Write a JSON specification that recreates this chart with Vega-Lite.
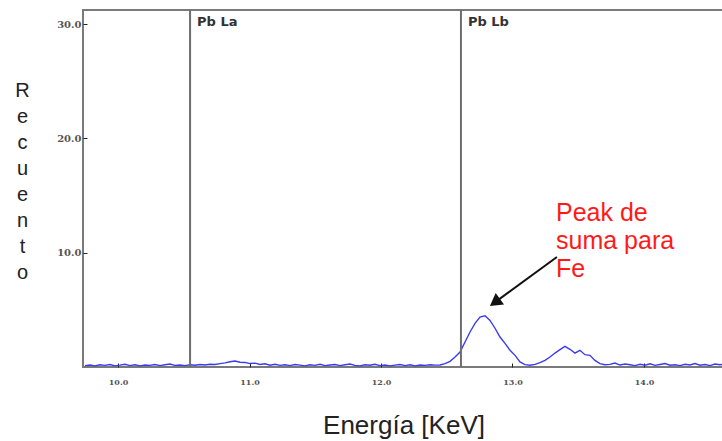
{
  "$schema": "https://vega.github.io/schema/vega-lite/v6.json",
  "width": 641,
  "height": 357,
  "autosize": "none",
  "padding": {"left": 83, "top": 10, "right": 0, "bottom": 74},
  "background": "white",
  "config": {
    "font": "Liberation Sans",
    "view": {"stroke": "#7a7a7a", "strokeWidth": 2}
  },
  "datasets": {
    "spectrum": [
      {"E": 9.749, "c": 0.12}, {"E": 9.787, "c": 0.18}, {"E": 9.825, "c": 0.1}, {"E": 9.863, "c": 0.2},
      {"E": 9.901, "c": 0.14}, {"E": 9.939, "c": 0.22}, {"E": 9.977, "c": 0.1}, {"E": 10.015, "c": 0.16},
      {"E": 10.053, "c": 0.24}, {"E": 10.091, "c": 0.12}, {"E": 10.129, "c": 0.2}, {"E": 10.167, "c": 0.1},
      {"E": 10.205, "c": 0.18}, {"E": 10.243, "c": 0.14}, {"E": 10.281, "c": 0.22}, {"E": 10.319, "c": 0.12},
      {"E": 10.357, "c": 0.2}, {"E": 10.395, "c": 0.26}, {"E": 10.433, "c": 0.14}, {"E": 10.471, "c": 0.18},
      {"E": 10.51, "c": 0.12}, {"E": 10.548, "c": 0.2}, {"E": 10.586, "c": 0.16}, {"E": 10.624, "c": 0.22},
      {"E": 10.662, "c": 0.18}, {"E": 10.7, "c": 0.24}, {"E": 10.738, "c": 0.22}, {"E": 10.776, "c": 0.3},
      {"E": 10.814, "c": 0.36}, {"E": 10.852, "c": 0.46}, {"E": 10.89, "c": 0.52}, {"E": 10.928, "c": 0.42},
      {"E": 10.966, "c": 0.4}, {"E": 11.004, "c": 0.3}, {"E": 11.042, "c": 0.34}, {"E": 11.08, "c": 0.22},
      {"E": 11.118, "c": 0.28}, {"E": 11.156, "c": 0.16}, {"E": 11.194, "c": 0.24}, {"E": 11.232, "c": 0.14},
      {"E": 11.27, "c": 0.2}, {"E": 11.308, "c": 0.12}, {"E": 11.346, "c": 0.22}, {"E": 11.384, "c": 0.16},
      {"E": 11.422, "c": 0.1}, {"E": 11.46, "c": 0.2}, {"E": 11.498, "c": 0.14}, {"E": 11.536, "c": 0.24},
      {"E": 11.574, "c": 0.12}, {"E": 11.612, "c": 0.18}, {"E": 11.65, "c": 0.22}, {"E": 11.688, "c": 0.12},
      {"E": 11.726, "c": 0.2}, {"E": 11.764, "c": 0.26}, {"E": 11.802, "c": 0.14}, {"E": 11.84, "c": 0.1},
      {"E": 11.878, "c": 0.2}, {"E": 11.916, "c": 0.16}, {"E": 11.954, "c": 0.24}, {"E": 11.992, "c": 0.12},
      {"E": 12.03, "c": 0.18}, {"E": 12.068, "c": 0.1}, {"E": 12.106, "c": 0.16}, {"E": 12.144, "c": 0.22},
      {"E": 12.183, "c": 0.12}, {"E": 12.221, "c": 0.2}, {"E": 12.259, "c": 0.1}, {"E": 12.297, "c": 0.18},
      {"E": 12.335, "c": 0.14}, {"E": 12.373, "c": 0.2}, {"E": 12.411, "c": 0.16}, {"E": 12.449, "c": 0.18},
      {"E": 12.487, "c": 0.3}, {"E": 12.525, "c": 0.5}, {"E": 12.563, "c": 0.87}, {"E": 12.601, "c": 1.31},
      {"E": 12.639, "c": 2.19}, {"E": 12.677, "c": 3.06}, {"E": 12.715, "c": 3.82}, {"E": 12.753, "c": 4.37},
      {"E": 12.791, "c": 4.48}, {"E": 12.829, "c": 4.08}, {"E": 12.867, "c": 3.39}, {"E": 12.905, "c": 2.62},
      {"E": 12.943, "c": 2.07}, {"E": 12.981, "c": 1.46}, {"E": 13.019, "c": 1.02}, {"E": 13.057, "c": 0.44},
      {"E": 13.095, "c": 0.21}, {"E": 13.133, "c": 0.15}, {"E": 13.171, "c": 0.23}, {"E": 13.209, "c": 0.38},
      {"E": 13.247, "c": 0.58}, {"E": 13.285, "c": 0.87}, {"E": 13.323, "c": 1.22}, {"E": 13.361, "c": 1.52},
      {"E": 13.399, "c": 1.8}, {"E": 13.437, "c": 1.55}, {"E": 13.475, "c": 1.22}, {"E": 13.513, "c": 1.46},
      {"E": 13.551, "c": 1.08}, {"E": 13.589, "c": 1.02}, {"E": 13.627, "c": 0.58}, {"E": 13.665, "c": 0.29},
      {"E": 13.703, "c": 0.2}, {"E": 13.741, "c": 0.23}, {"E": 13.779, "c": 0.35}, {"E": 13.817, "c": 0.17},
      {"E": 13.856, "c": 0.26}, {"E": 13.894, "c": 0.2}, {"E": 13.932, "c": 0.12}, {"E": 13.97, "c": 0.24},
      {"E": 14.008, "c": 0.16}, {"E": 14.046, "c": 0.28}, {"E": 14.084, "c": 0.14}, {"E": 14.122, "c": 0.22},
      {"E": 14.16, "c": 0.3}, {"E": 14.198, "c": 0.16}, {"E": 14.236, "c": 0.2}, {"E": 14.274, "c": 0.12},
      {"E": 14.312, "c": 0.24}, {"E": 14.35, "c": 0.18}, {"E": 14.388, "c": 0.3}, {"E": 14.426, "c": 0.16},
      {"E": 14.464, "c": 0.22}, {"E": 14.502, "c": 0.12}, {"E": 14.54, "c": 0.26}, {"E": 14.578, "c": 0.2},
      {"E": 14.608, "c": 0.24}
    ],
    "lines": [
      {"E": 10.548, "c": 30.2, "name": "Pb La"},
      {"E": 12.608, "c": 30.2, "name": "Pb Lb"}
    ],
    "note": [
      {"E": 13.331, "c": 13.5, "line": "Peak de"},
      {"E": 13.331, "c": 11.0, "line": "suma para"},
      {"E": 13.331, "c": 8.6, "line": "Fe"}
    ],
    "arrow": [
      {"E": 13.338, "c": 9.62, "E2": 12.866, "c2": 5.65}
    ]
  },
  "layer": [
    {
      "data": {"name": "spectrum"},
      "mark": {"type": "line", "color": "#3b3bf2", "strokeWidth": 1.4, "clip": true},
      "encoding": {
        "x": {
          "field": "E", "type": "quantitative",
          "scale": {"domain": [9.7338, 14.6084], "nice": false, "zero": false},
          "axis": {
            "title": "Energía [KeV]",
            "values": [10, 11, 12, 13, 14],
            "format": ".1f",
            "domain": false,
            "grid": false,
            "tickSize": -4,
            "tickColor": "#222",
            "tickWidth": 1,
            "labelPadding": 15,
            "labelFont": "DejaVu Serif",
            "labelFontSize": 8,
            "labelFontWeight": "bold",
            "labelColor": "#555",
            "titleFont": "Liberation Sans",
            "titleFontSize": 26,
            "titleFontWeight": "normal",
            "titleColor": "#222",
            "titleY": 58,
            "titleBaseline": "middle"
          }
        },
        "y": {
          "field": "c", "type": "quantitative",
          "scale": {"domain": [0, 31.23], "nice": false},
          "axis": {
            "title": ["R", "e", "c", "u", "e", "n", "t", "o"],
            "values": [10, 20, 30],
            "format": ".1f",
            "domain": false,
            "grid": false,
            "tickSize": -4,
            "tickColor": "#222",
            "tickWidth": 1,
            "labelPadding": 6,
            "labelFont": "DejaVu Serif",
            "labelFontSize": 10,
            "labelFontWeight": "bold",
            "labelColor": "#555",
            "titleFont": "Liberation Sans",
            "titleFontSize": 20,
            "titleFontWeight": "normal",
            "titleColor": "#222",
            "titleAngle": 0,
            "titleAlign": "center",
            "titleBaseline": "top",
            "titleLineHeight": 26,
            "titleX": -61,
            "titleY": 70
          }
        }
      }
    },
    {
      "data": {"name": "lines"},
      "mark": {"type": "rule", "color": "#6e6e6e", "strokeWidth": 2},
      "encoding": {
        "x": {"field": "E", "type": "quantitative"}
      }
    },
    {
      "data": {"name": "lines"},
      "mark": {"type": "text", "align": "left", "baseline": "middle", "dx": 7, "font": "DejaVu Sans", "fontWeight": "bold", "fontSize": 13, "color": "#333"},
      "encoding": {
        "x": {"field": "E", "type": "quantitative"},
        "y": {"field": "c", "type": "quantitative"},
        "text": {"field": "name"}
      }
    },
    {
      "data": {"name": "note"},
      "mark": {"type": "text", "align": "left", "baseline": "middle", "font": "Liberation Sans", "fontSize": 25, "color": "#ff1a1a"},
      "encoding": {
        "x": {"field": "E", "type": "quantitative"},
        "y": {"field": "c", "type": "quantitative"},
        "text": {"field": "line"}
      }
    },
    {
      "data": {"name": "arrow"},
      "mark": {"type": "rule", "color": "#111", "strokeWidth": 2},
      "encoding": {
        "x": {"field": "E", "type": "quantitative"},
        "y": {"field": "c", "type": "quantitative"},
        "x2": {"field": "E2"},
        "y2": {"field": "c2"}
      }
    },
    {
      "data": {"name": "arrow"},
      "mark": {"type": "point", "shape": "triangle-up", "filled": true, "color": "#111", "opacity": 1, "size": 200, "angle": 234},
      "encoding": {
        "x": {"field": "E2", "type": "quantitative"},
        "y": {"field": "c2", "type": "quantitative"}
      }
    }
  ]
}
